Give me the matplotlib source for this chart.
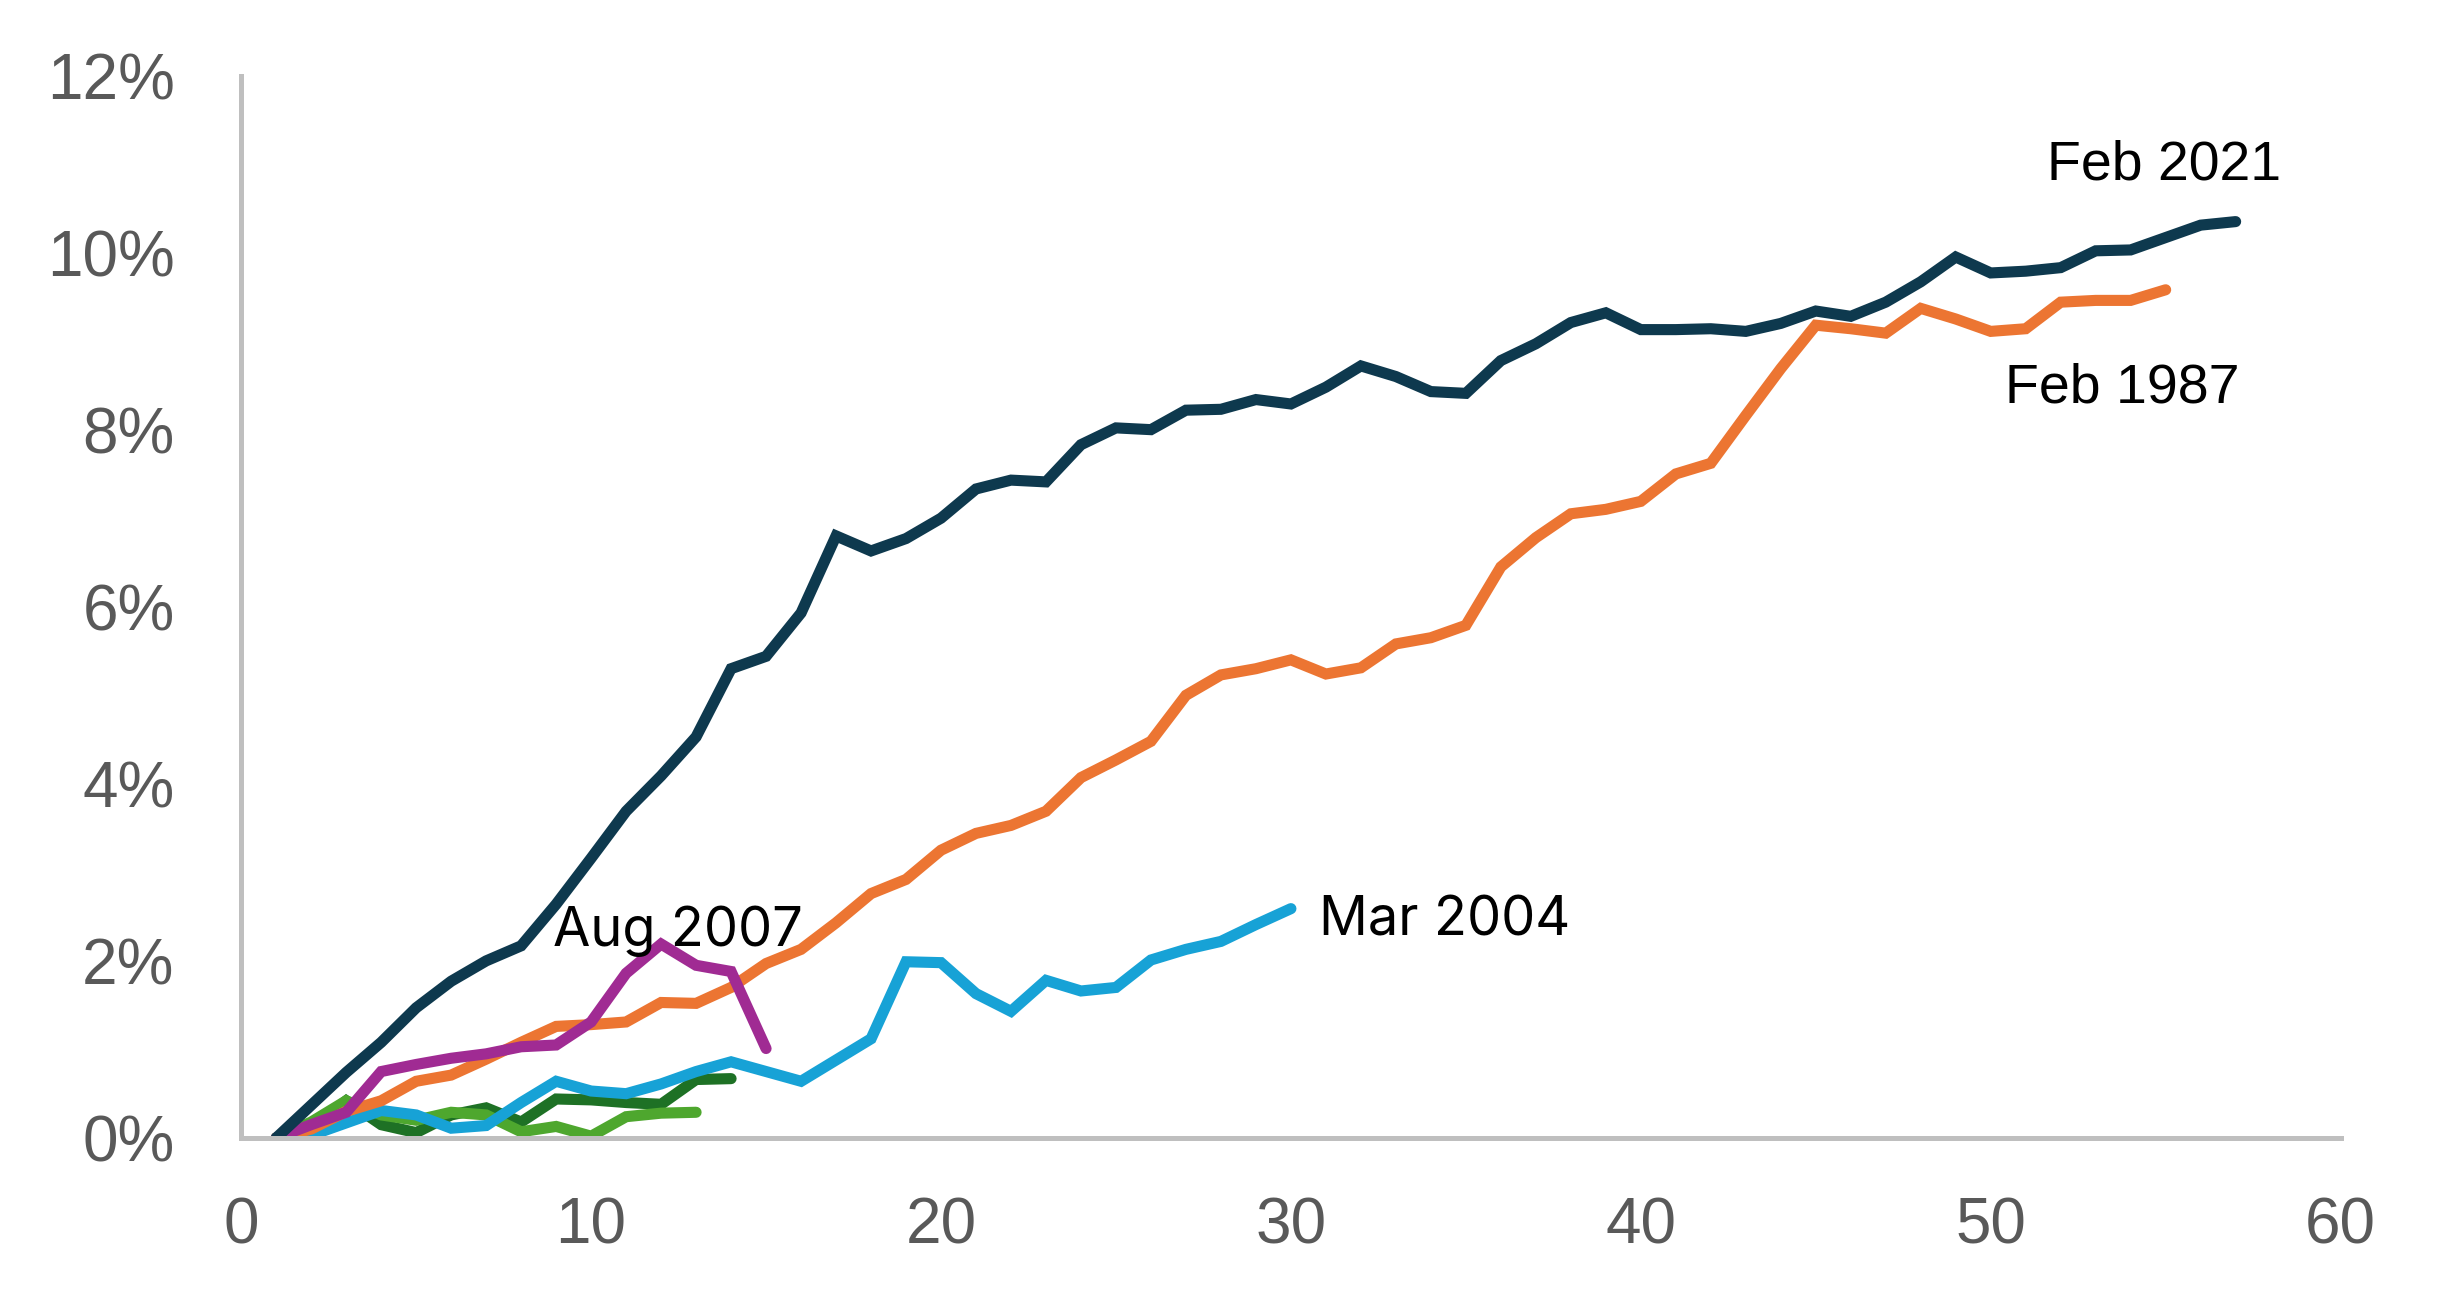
import matplotlib
matplotlib.use("Agg")
import matplotlib.pyplot as plt
from matplotlib.ticker import FuncFormatter

# cumulative change per period, in percent
feb2021 = [0.0, 0.37, 0.74, 1.08, 1.47, 1.77, 2.0, 2.17, 2.64, 3.16,
           3.69, 4.09, 4.53, 5.3, 5.44, 5.93, 6.8, 6.63, 6.77, 7.0,
           7.33, 7.43, 7.41, 7.83, 8.02, 8.0, 8.22, 8.23, 8.34, 8.29,
           8.48, 8.72, 8.6, 8.43, 8.41, 8.78, 8.97, 9.21, 9.32, 9.13,
           9.13, 9.14, 9.11, 9.2, 9.34, 9.28, 9.44, 9.67, 9.95, 9.77,
           9.79, 9.83, 10.02, 10.03, 10.17, 10.31, 10.35]
feb1987 = [0.0, 0.1, 0.3, 0.42, 0.64, 0.71, 0.89, 1.08, 1.26, 1.28,
           1.31, 1.53, 1.52, 1.7, 1.97, 2.13, 2.43, 2.76, 2.92, 3.25,
           3.44, 3.53, 3.69, 4.07, 4.27, 4.48, 5.0, 5.23, 5.3, 5.4,
           5.24, 5.31, 5.58, 5.65, 5.79, 6.45, 6.78, 7.05, 7.1, 7.19,
           7.5, 7.62, 8.16, 8.69, 9.18, 9.14, 9.09, 9.37, 9.25, 9.11,
           9.14, 9.44, 9.46, 9.46, 9.58]
mar2004 = [0.0, 0.03, 0.17, 0.31, 0.26, 0.11, 0.14, 0.4, 0.64, 0.53,
           0.5, 0.61, 0.75, 0.86, 0.75, 0.64, 0.88, 1.12, 1.99, 1.98,
           1.63, 1.43, 1.78, 1.66, 1.7, 2.01, 2.13, 2.22, 2.41, 2.59]
aug2007 = [0.0, 0.15, 0.29, 0.75, 0.83, 0.9, 0.95, 1.03, 1.05, 1.31,
           1.86, 2.19, 1.95, 1.88, 1.01]
dark_green = [0.0, 0.12, 0.42, 0.15, 0.06, 0.26, 0.34, 0.18, 0.44, 0.43,
              0.4, 0.38, 0.66, 0.67]
light_green = [0.0, 0.18, 0.42, 0.26, 0.2, 0.29, 0.26, 0.07, 0.13, 0.02,
               0.24, 0.28, 0.29]

series = [
    (dark_green, "#1E7125"),
    (light_green, "#4EA72E"),
    (mar2004, "#17A2D6"),
    (feb1987, "#EC7532"),
    (aug2007, "#A02B93"),
    (feb2021, "#0E394E"),
]

fig = plt.figure(figsize=(12.22, 6.51), dpi=200)
ax = fig.add_axes([0.0987, 0.126, 0.859, 0.816])

for vals, col in series:
    xs = range(1, len(vals) + 1)
    ax.plot(xs, vals, color=col, linewidth=4.0, solid_capstyle="round",
            solid_joinstyle="miter")

ax.set_xlim(0, 60)
ax.set_ylim(0, 12)
ax.set_xticks(range(0, 61, 10))
ax.set_yticks(range(0, 13, 2))
ax.yaxis.set_major_formatter(FuncFormatter(lambda v, p: f"{v:.0f}%"))

for s in ["top", "right"]:
    ax.spines[s].set_visible(False)
for s in ["left", "bottom"]:
    ax.spines[s].set_color("#BFBFBF")
    ax.spines[s].set_linewidth(1.8)

ax.tick_params(length=0, labelsize=23, labelcolor="#595959")
ax.tick_params(axis="y", pad=24)
ax.tick_params(axis="x", pad=21)
for lab in ax.get_xticklabels() + ax.get_yticklabels():
    lab.set_family(["Liberation Sans"])

narrow = ["Liberation Sans"]
ax.text(51.6, 10.98, "Feb 2021", fontsize=20, family=narrow, va="center")
ax.text(50.4, 8.46, "Feb 1987", fontsize=20, family=narrow, va="center")
ax.text(30.8, 2.45, "Mar 2004", fontsize=19.5, family=["Inter", "DejaVu Sans"], va="center")
ax.text(8.9, 2.34, "Aug 2007", fontsize=19.5, family=["Inter", "DejaVu Sans"], va="center")

fig.savefig("out.png", dpi=200)
